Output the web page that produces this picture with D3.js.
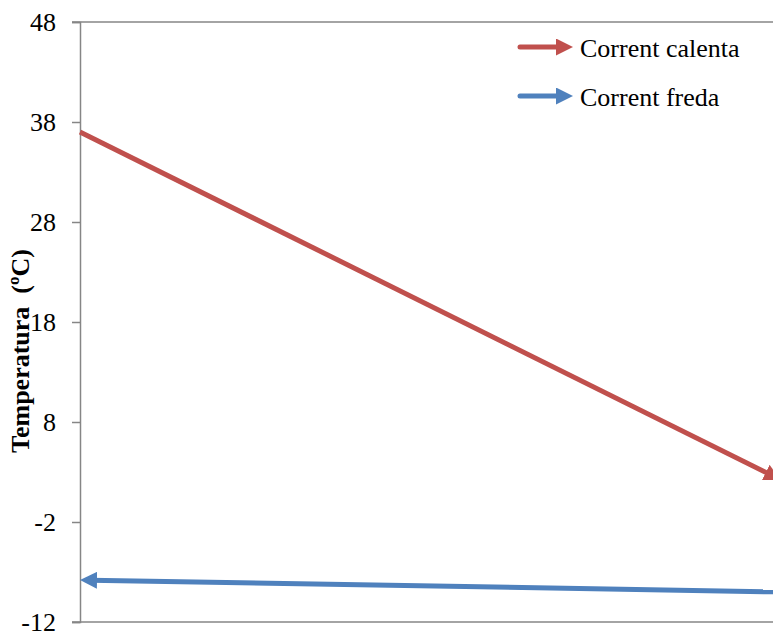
<!DOCTYPE html>
<html>
<head>
<meta charset="utf-8">
<script src="https://cdn.jsdelivr.net/npm/d3@7"></script>
<style>
  html, body { margin: 0; padding: 0; background: #fff; }
  svg { display: block; }
  svg text { font-family: "Liberation Serif", "Times New Roman", "DejaVu Serif", serif; }
</style>
</head>
<body>
<div id="chart"></div>
<script>
const positions = [0, 1];
const hotValues = [37.0, 2.2];
const coldValues = [-7.8, -9.0];
const yTicks = [-12, -2, 8, 18, 28, 38, 48];
const seriesNames = ["Corrent calenta", "Corrent freda"];

const width = 773;
const height = 633;
const margin = { top: 22, right: -8, bottom: 11, left: 80 };

const svg = d3.select("#chart")
  .append("svg")
  .attr("width", width)
  .attr("height", height);

const x = d3.scaleLinear()
  .domain([0, 1])
  .range([margin.left, width - margin.right]);

const y = d3.scaleLinear()
  .domain([-12, 48])
  .range([height - margin.bottom, margin.top]);

const axisColor = "#868686";
const hotColor = "#C0504D";
const coldColor = "#4F81BD";
const headSize = 17;

const defs = svg.append("defs");
[["arrow-hot", hotColor], ["arrow-cold", coldColor]].forEach(([id, color]) => {
  defs.append("marker")
    .attr("id", id)
    .attr("viewBox", "0 0 10 10")
    .attr("refX", 10)
    .attr("refY", 5)
    .attr("markerUnits", "userSpaceOnUse")
    .attr("markerWidth", headSize)
    .attr("markerHeight", headSize)
    .attr("orient", "auto-start-reverse")
    .append("path")
    .attr("d", "M0,0 L10,5 L0,10 Z")
    .attr("fill", color);
});

// top border and bottom axis lines
[48, -12].forEach((v) => {
  svg.append("line")
    .attr("x1", margin.left - 8)
    .attr("x2", width)
    .attr("y1", y(v))
    .attr("y2", y(v))
    .attr("stroke", axisColor)
    .attr("stroke-width", 1.5);
});

svg.append("g")
  .attr("transform", `translate(${margin.left},0)`)
  .call(d3.axisLeft(y).tickValues(yTicks).tickFormat((d) => String(d)).tickSize(8).tickPadding(16))
  .attr("font-family", null)
  .call((g) => g.select(".domain").attr("stroke", axisColor).attr("stroke-width", 1.5))
  .call((g) => g.selectAll(".tick line").attr("stroke", axisColor).attr("stroke-width", 1.5))
  .call((g) => g.selectAll(".tick text")
    .attr("fill", "#000")
    .attr("font-size", 26));

svg.append("text")
  .attr("transform", `translate(29, 351) rotate(-90)`)
  .attr("text-anchor", "middle")
  .attr("font-size", 26)
  .attr("font-weight", "bold")
  .attr("fill", "#000")
  .style("white-space", "pre")
  .text("Temperatura  (ºC)");

// pull the stroke back so the arrow head covers the tip cleanly
function shortened(p0, p1, back) {
  const dx = p1[0] - p0[0];
  const dy = p1[1] - p0[1];
  const len = Math.hypot(dx, dy);
  return [p1[0] - (dx / len) * back, p1[1] - (dy / len) * back];
}

const hotPts = positions.map((p, i) => [x(p), y(hotValues[i])]);
const coldPts = positions.map((p, i) => [x(p), y(coldValues[i])]);

const line = d3.line();

svg.append("path")
  .attr("d", line([hotPts[0], shortened(hotPts[0], hotPts[1], 10)]))
  .attr("fill", "none")
  .attr("stroke", hotColor)
  .attr("stroke-width", 5);
svg.append("path")
  .attr("d", line([shortened(hotPts[1], hotPts[0], 11), hotPts[1]]))
  .attr("fill", "none")
  .attr("stroke", "none")
  .attr("marker-end", "url(#arrow-hot)");

svg.append("path")
  .attr("d", line([shortened(coldPts[1], coldPts[0], 10), coldPts[1]]))
  .attr("fill", "none")
  .attr("stroke", coldColor)
  .attr("stroke-width", 5);
svg.append("path")
  .attr("d", line([coldPts[0], shortened(coldPts[0], coldPts[1], 11)]))
  .attr("fill", "none")
  .attr("stroke", "none")
  .attr("marker-start", "url(#arrow-cold)");

// legend
const legend = svg.append("g").attr("transform", "translate(520, 47)");
[[hotColor, "arrow-hot"], [coldColor, "arrow-cold"]].forEach(([color, id], i) => {
  const entry = legend.append("g").attr("transform", `translate(0, ${i * 49})`);
  entry.append("line")
    .attr("x1", 0)
    .attr("x2", 43)
    .attr("y1", 0)
    .attr("y2", 0)
    .attr("stroke", color)
    .attr("stroke-width", 5)
    .attr("stroke-linecap", "round");
  entry.append("line")
    .attr("x1", 42)
    .attr("x2", 53)
    .attr("y1", 0)
    .attr("y2", 0)
    .attr("stroke", "none")
    .attr("marker-end", `url(#${id})`);
  entry.append("text")
    .attr("x", 60)
    .attr("y", 10)
    .attr("font-size", 26)
    .attr("fill", "#000")
    .text(seriesNames[i]);
});
</script>
</body>
</html>
